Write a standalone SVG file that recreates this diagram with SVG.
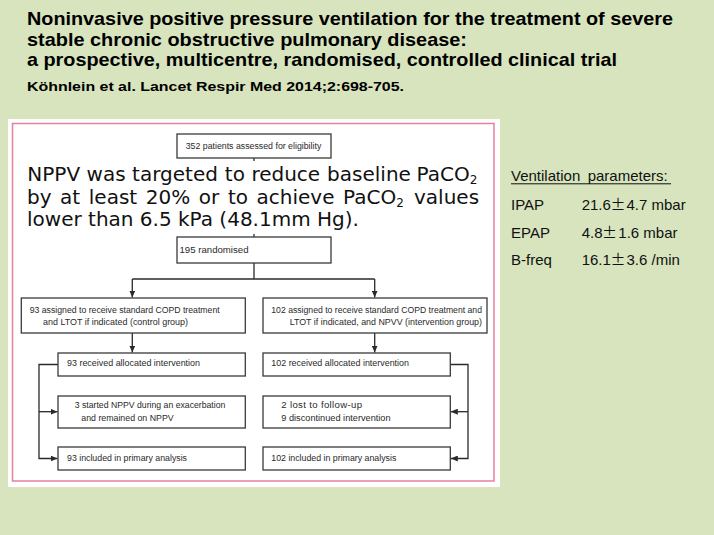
<svg xmlns="http://www.w3.org/2000/svg" width="714" height="535" viewBox="0 0 714 535">
<defs>
<marker id="arr" viewBox="0 0 7 6" refX="7" refY="3" markerWidth="7" markerHeight="6" orient="auto" markerUnits="userSpaceOnUse">
<path d="M0,0 L7,3 L0,6 z" fill="#2a2a2a"/>
</marker>
<style>
.title{font-family:"Liberation Sans Narrow","Liberation Sans",Arial,sans-serif;font-weight:bold;fill:#000}
.box{fill:#fff;stroke:#3a3a3a;stroke-width:1.3}
.t{font-family:"Liberation Sans",Arial,sans-serif;font-size:9.6px;fill:#2a2a2a}
.ov{font-family:"DejaVu Sans",Verdana,sans-serif;font-size:20px;fill:#111}
.sub{font-size:12px}
.vp{font-family:"Liberation Sans",Arial,sans-serif;font-size:15px;fill:#111}
.pm{font-family:"Noto Sans CJK JP","Liberation Sans",sans-serif;font-size:15px;fill:#111}
.con{fill:none;stroke:#2a2a2a;stroke-width:1.3}
</style>
</defs>
<rect x="0" y="0" width="714" height="535" fill="#d7e4bd"/>
<g id="title">
<text class="title" x="27" y="25" font-size="19" textLength="646" lengthAdjust="spacingAndGlyphs">Noninvasive positive pressure ventilation for the treatment of severe</text>
<text class="title" x="27" y="45.5" font-size="19" textLength="440" lengthAdjust="spacingAndGlyphs">stable chronic obstructive pulmonary disease:</text>
<text class="title" x="27" y="66" font-size="19" textLength="590" lengthAdjust="spacingAndGlyphs">a prospective, multicentre, randomised, controlled clinical trial</text>
<text class="title" x="27" y="91" font-size="13.5" textLength="377" lengthAdjust="spacingAndGlyphs">Köhnlein et al. Lancet Respir Med 2014;2:698-705.</text>
</g>
<g id="panel">
<rect x="8" y="119" width="492" height="368" fill="#fff"/>
<rect x="12.5" y="123.5" width="481.5" height="357.5" fill="none" stroke="#e5819c" stroke-width="1.5"/>
</g>
<g id="connectors">
<path class="con" d="M254,158 V161"/>
<path class="con" d="M254,234 V237"/>
<path class="con" d="M254,263 V279"/>
<path class="con" d="M132.3,279 H374.7"/>
<path class="con" d="M132.3,279 V297.5" marker-end="url(#arr)"/>
<path class="con" d="M374.7,279 V297.5" marker-end="url(#arr)"/>
<path class="con" d="M132.3,333 V352.5" marker-end="url(#arr)"/>
<path class="con" d="M374.7,333 V352.5" marker-end="url(#arr)"/>
<path class="con" d="M58,364.5 H39 V458.5 H57.5" marker-end="url(#arr)"/>
<path class="con" d="M39,411.7 H57.5" marker-end="url(#arr)"/>
<path class="con" d="M450.3,364.5 H468 V458.5 H450.8" marker-end="url(#arr)"/>
<path class="con" d="M468,411.7 H450.8" marker-end="url(#arr)"/>
</g>
<g id="n1">
<rect class="box" x="177" y="134" width="154" height="24"/>
<text class="t" x="185.7" y="149" textLength="135.6" lengthAdjust="spacingAndGlyphs">352 patients assessed for eligibility</text>
</g>
<g id="n2">
<rect class="box" x="177" y="237" width="154" height="26"/>
<text class="t" x="179.5" y="253" textLength="69" lengthAdjust="spacingAndGlyphs">195 randomised</text>
</g>
<g id="n3">
<rect class="box" x="21.3" y="298" width="224" height="35"/>
<text class="t" x="29.7" y="312.7" textLength="190" lengthAdjust="spacingAndGlyphs">93 assigned to receive standard COPD treatment</text>
<text class="t" x="43" y="325.3" textLength="145" lengthAdjust="spacingAndGlyphs">and LTOT if indicated (control group)</text>
</g>
<g id="n4">
<rect class="box" x="263" y="298" width="224" height="35"/>
<text class="t" x="271.3" y="312.7" textLength="210.7" lengthAdjust="spacingAndGlyphs">102 assigned to receive standard COPD treatment and</text>
<text class="t" x="289.7" y="325.3" textLength="192.3" lengthAdjust="spacingAndGlyphs">LTOT if indicated, and NPVV (intervention group)</text>
</g>
<g id="n5">
<rect class="box" x="58" y="353" width="187.3" height="23"/>
<text class="t" x="67" y="366" textLength="133" lengthAdjust="spacingAndGlyphs">93 received allocated intervention</text>
</g>
<g id="n6">
<rect class="box" x="263" y="353" width="187.3" height="23"/>
<text class="t" x="271.3" y="366" textLength="137.7" lengthAdjust="spacingAndGlyphs">102 received allocated intervention</text>
</g>
<g id="n7">
<rect class="box" x="58" y="396" width="187.3" height="32"/>
<text class="t" x="74.7" y="408.3" textLength="150.7" lengthAdjust="spacingAndGlyphs">3 started NPPV during an exacerbation</text>
<text class="t" x="81.3" y="420.7" textLength="92.3" lengthAdjust="spacingAndGlyphs">and remained on NPPV</text>
</g>
<g id="n8">
<rect class="box" x="263" y="396" width="187.3" height="32"/>
<text class="t" x="281.3" y="408.3" textLength="80.7" lengthAdjust="spacing">2 lost to follow-up</text>
<text class="t" x="281.3" y="420.7" textLength="109.3" lengthAdjust="spacingAndGlyphs">9 discontinued intervention</text>
</g>
<g id="n9">
<rect class="box" x="58" y="447" width="187.3" height="23"/>
<text class="t" x="67" y="460.7" textLength="120" lengthAdjust="spacingAndGlyphs">93 included in primary analysis</text>
</g>
<g id="n10">
<rect class="box" x="263" y="447" width="187.3" height="23"/>
<text class="t" x="271.3" y="460.7" textLength="125" lengthAdjust="spacingAndGlyphs">102 included in primary analysis</text>
</g>
<g id="overlay">
<text class="ov" y="181"><tspan x="27.3">NPPV</tspan><tspan x="86.6">was</tspan><tspan x="132.1">targeted</tspan><tspan x="224.8">to</tspan><tspan x="251.4">reduce</tspan><tspan x="327.1">baseline</tspan><tspan x="416.5">PaCO</tspan><tspan class="sub" dy="3">2</tspan></text>
<text class="ov" y="203.5"><tspan x="27">by</tspan><tspan x="60.1">at</tspan><tspan x="88.8">least</tspan><tspan x="145.8">20%</tspan><tspan x="198.8">or</tspan><tspan x="227.9">to</tspan><tspan x="256.5">achieve</tspan><tspan x="343.1">PaCO</tspan><tspan class="sub" dy="3">2</tspan><tspan x="414" y="203.5">values</tspan></text>
<text class="ov" x="27" y="226">lower than 6.5 kPa (48.1mm Hg).</text>
</g>
<g id="ventilation">
<text class="vp" x="511" y="180.7">Ventilation</text>
<text class="vp" x="587.7" y="180.7">parameters:</text>
<line x1="511" y1="183.8" x2="671" y2="183.8" stroke="#111" stroke-width="1"/>
<text class="vp" x="511" y="210">IPAP</text>
<text class="vp" x="581.7" y="210">21.6</text>
<text class="pm" x="610.5" y="210">±</text>
<text class="vp" x="626.5" y="210">4.7 mbar</text>
<text class="vp" x="511" y="238.3">EPAP</text>
<text class="vp" x="581.7" y="238.3">4.8</text>
<text class="pm" x="602" y="238.3">±</text>
<text class="vp" x="618.3" y="238.3">1.6 mbar</text>
<text class="vp" x="511" y="265">B-freq</text>
<text class="vp" x="581.7" y="265">16.1</text>
<text class="pm" x="610.5" y="265">±</text>
<text class="vp" x="626.5" y="265">3.6 /min</text>
</g>
</svg>
